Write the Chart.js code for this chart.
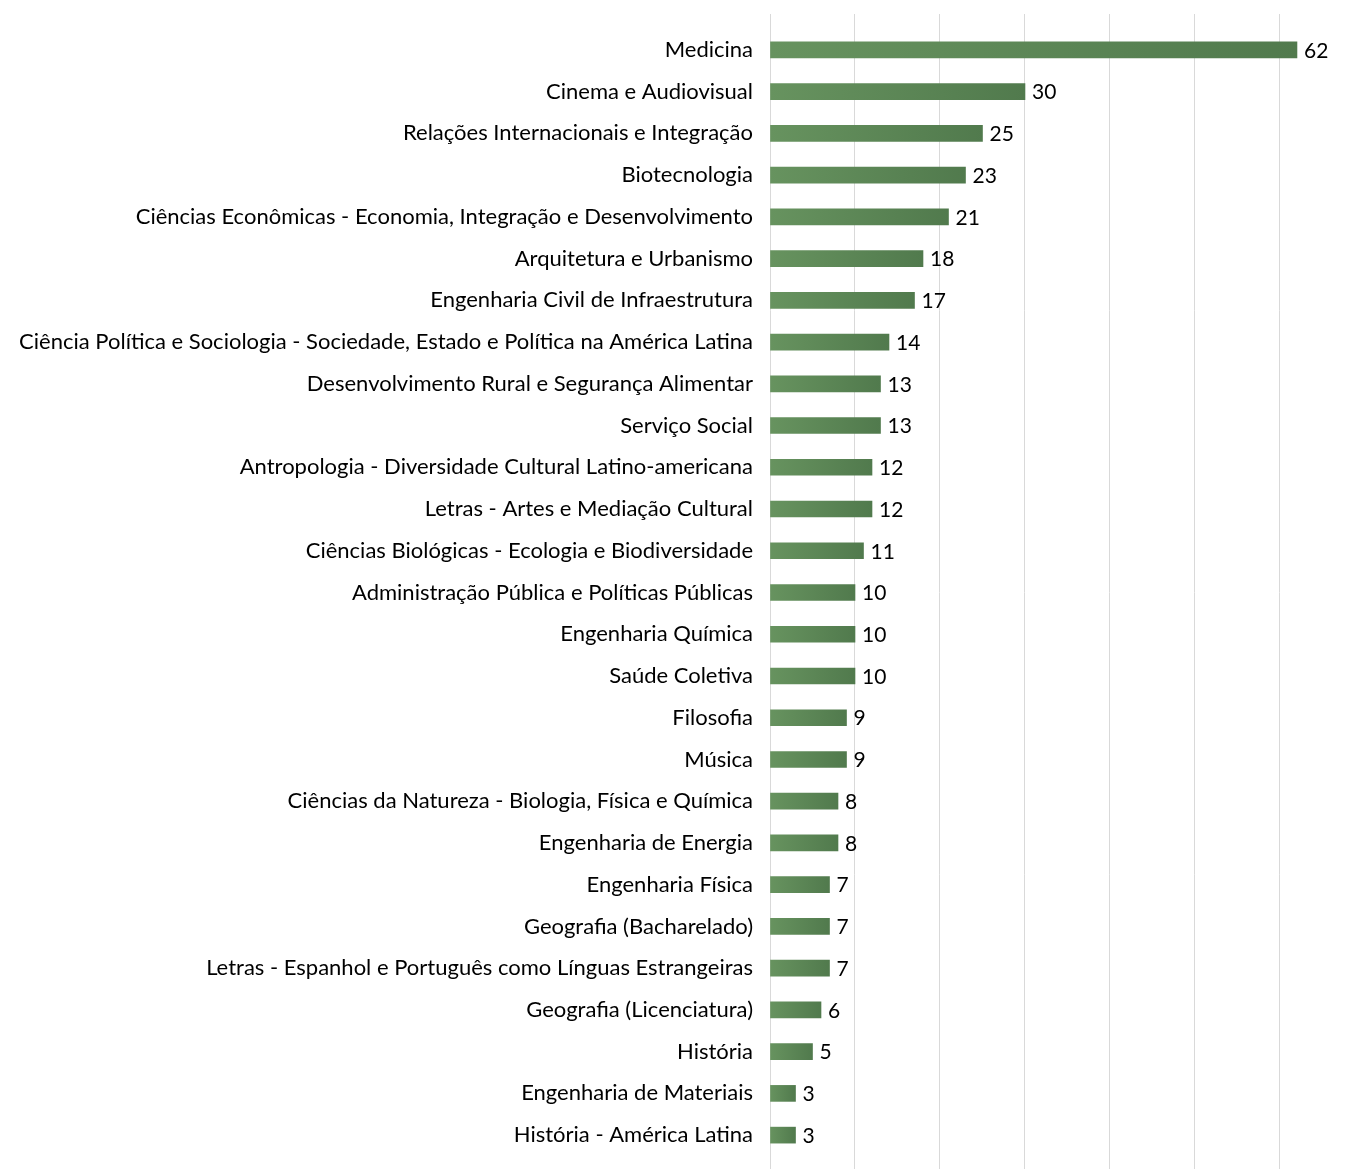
<!DOCTYPE html>
<html>
<head>
<meta charset="utf-8">
<script src="https://cdn.jsdelivr.net/npm/chart.js@4.4.1/dist/chart.umd.min.js"></script>
<style>
html,body{margin:0;padding:0;background:#fff;}
#wrap{width:1359px;height:1169px;}
</style>
</head>
<body>
<div id="wrap"><canvas id="c" width="1359" height="1169"></canvas></div>
<script>
const categories = [
  "Medicina",
  "Cinema e Audiovisual",
  "Relações Internacionais e Integração",
  "Biotecnologia",
  "Ciências Econômicas - Economia, Integração e Desenvolvimento",
  "Arquitetura e Urbanismo",
  "Engenharia Civil de Infraestrutura",
  "Ciência Política e Sociologia - Sociedade, Estado e Política na América Latina",
  "Desenvolvimento Rural e Segurança Alimentar",
  "Serviço Social",
  "Antropologia - Diversidade Cultural Latino-americana",
  "Letras - Artes e Mediação Cultural",
  "Ciências Biológicas - Ecologia e Biodiversidade",
  "Administração Pública e Políticas Públicas",
  "Engenharia Química",
  "Saúde Coletiva",
  "Filosofia",
  "Música",
  "Ciências da Natureza - Biologia, Física e Química",
  "Engenharia de Energia",
  "Engenharia Física",
  "Geografia (Bacharelado)",
  "Letras - Espanhol e Português como Línguas Estrangeiras",
  "Geografia (Licenciatura)",
  "História",
  "Engenharia de Materiais",
  "História - América Latina"
];
const values = [62,30,25,23,21,18,17,14,13,13,12,12,11,10,10,10,9,9,8,8,7,7,7,6,5,3,3];
const gridTicks = [0,10,20,30,40,50,60];

const FONT = "Lato, 'Open Sans', sans-serif";

function barFill(ctx){
  const chart = ctx.chart;
  const xs = chart.scales && chart.scales.x;
  if (!chart.chartArea || !xs || ctx.dataIndex === undefined) return '#5e8a5a';
  const v = ctx.raw !== undefined ? ctx.raw : 0;
  const x0 = xs.getPixelForValue(0);
  const x1 = xs.getPixelForValue(v);
  if (!isFinite(x0) || !isFinite(x1) || x1 <= x0) return '#5e8a5a';
  const g = chart.ctx.createLinearGradient(x0, 0, x1, 0);
  g.addColorStop(0, '#67935f');
  g.addColorStop(1, '#517a4d');
  return g;
}

const valueLabels = {
  id: 'valueLabels',
  afterDatasetsDraw(chart){
    const ctx = chart.ctx;
    const meta = chart.getDatasetMeta(0);
    ctx.save();
    ctx.font = "21px " + FONT;
    ctx.fillStyle = '#000';
    ctx.textAlign = 'left';
    ctx.textBaseline = 'middle';
    meta.data.forEach((el, i) => {
      ctx.fillText(String(values[i]), el.x + 7, el.y + 1);
    });
    ctx.restore();
  }
};

const setGrid = (scale) => { scale.ticks = gridTicks.map(v => ({value: v})); };

new Chart(document.getElementById('c'), {
  type: 'bar',
  data: {
    labels: categories,
    datasets: [{
      data: values,
      backgroundColor: barFill,
      borderWidth: 0,
      barThickness: 16
    }]
  },
  options: {
    indexAxis: 'y',
    responsive: false,
    animation: false,
    devicePixelRatio: 1,
    layout: { padding: { top: 14, bottom: 0, left: 0, right: 0 } },
    plugins: { legend: { display: false }, tooltip: { enabled: false } },
    scales: {
      x: {
        position: 'bottom',
        min: 0, max: 69.3,
        afterBuildTicks: setGrid,
        grid: { color: '#d9d9d9', lineWidth: 1, drawTicks: true, tickLength: 13 },
        border: { display: false },
        ticks: { display: false }
      },
      x2: {
        position: 'top',
        axis: 'x',
        min: 0, max: 69.3,
        afterBuildTicks: setGrid,
        grid: { color: '#d9d9d9', lineWidth: 1, drawOnChartArea: false, drawTicks: true, tickLength: 15 },
        border: { display: false },
        ticks: { display: false }
      },
      y: {
        afterFit: (s) => { s.width = 770; s.paddingTop = 0; s.paddingBottom = 0; },
        grid: { display: false },
        border: { display: false },
        ticks: {
          color: '#000',
          padding: 9,
          autoSkip: false,
          font: { family: FONT, size: 22 }
        }
      }
    }
  },
  plugins: [valueLabels]
});
</script>
</body>
</html>
